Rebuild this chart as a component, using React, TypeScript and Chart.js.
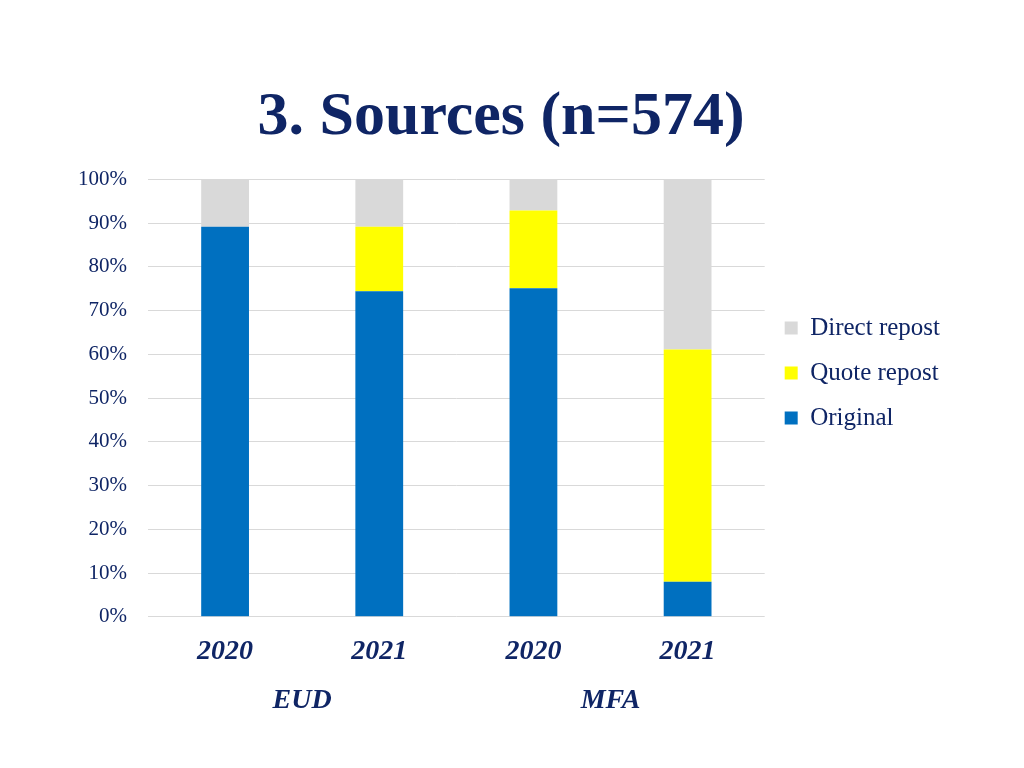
import React, { useEffect, useRef } from "react";
import { Chart, registerables } from "chart.js";

Chart.register(...registerables);

const titleText = "3. Sources (n=574)";
const years = ["2020", "2021", "2020", "2021"];
const groups = ["EUD", "MFA"];
const original = [89.2, 74.4, 75.1, 8.0];
const quoteRepost = [0, 14.8, 17.8, 53.1];
const directRepost = [10.8, 10.8, 7.1, 38.9];

const NAVY = "#0f2565";
const FONT = "'Liberation Serif', 'Times New Roman', serif";

export default function App() {
  const ref = useRef<HTMLCanvasElement | null>(null);

  useEffect(() => {
    if (!ref.current) return;
    const chart = new Chart(ref.current, {
      type: "bar",
      data: {
        labels: years,
        datasets: [
          { label: "Original", data: original, backgroundColor: "#0070C0", xAxisID: "x" },
          { label: "Quote repost", data: quoteRepost, backgroundColor: "#FFFF00", xAxisID: "x" },
          { label: "Direct repost", data: directRepost, backgroundColor: "#D9D9D9", xAxisID: "x" },
        ],
      },
      options: {
        responsive: false,
        animation: false,
        layout: { padding: { left: 52, right: 74, top: 30, bottom: 52 } },
        datasets: { bar: { barPercentage: 0.31, categoryPercentage: 1 } },
        scales: {
          x: {
            stacked: true,
            position: "bottom",
            grid: { display: false, drawTicks: false },
            border: { display: false },
            ticks: {
              color: NAVY,
              padding: 18,
              font: { family: FONT, size: 28, weight: "bold", style: "italic" },
            },
          },
          x2: {
            type: "category",
            labels: groups,
            position: "bottom",
            offset: true,
            grid: { display: false, drawTicks: false },
            border: { display: false },
            ticks: {
              color: NAVY,
              padding: -2,
              font: { family: FONT, size: 28, weight: "bold", style: "italic" },
            },
          },
          y: {
            stacked: true,
            min: 0,
            max: 100,
            afterFit: (scale: any) => {
              scale.width = 96;
            },
            grid: { color: "#D9D9D9", drawTicks: false, lineWidth: 1 },
            border: { display: false },
            ticks: {
              stepSize: 10,
              padding: 21,
              color: NAVY,
              font: { family: FONT, size: 21 },
              callback: (v: any) => v + "%",
            },
          },
        },
        plugins: {
          tooltip: { enabled: false },
          title: {
            display: true,
            text: titleText,
            color: NAVY,
            font: { family: FONT, size: 62, weight: "bold" },
            padding: { top: 51, bottom: 24 },
          },
          legend: {
            display: true,
            position: "right",
            reverse: true,
            labels: {
              boxWidth: 13,
              boxHeight: 13,
              padding: 20,
              color: NAVY,
              font: { family: FONT, size: 25 },
            },
          },
        },
      },
    });
    return () => chart.destroy();
  }, []);

  return (
    <div style={{ position: "fixed", left: 0, top: 0, width: 1024, height: 768, background: "#fff" }}>
      <canvas ref={ref} width={1024} height={768} />
    </div>
  );
}
